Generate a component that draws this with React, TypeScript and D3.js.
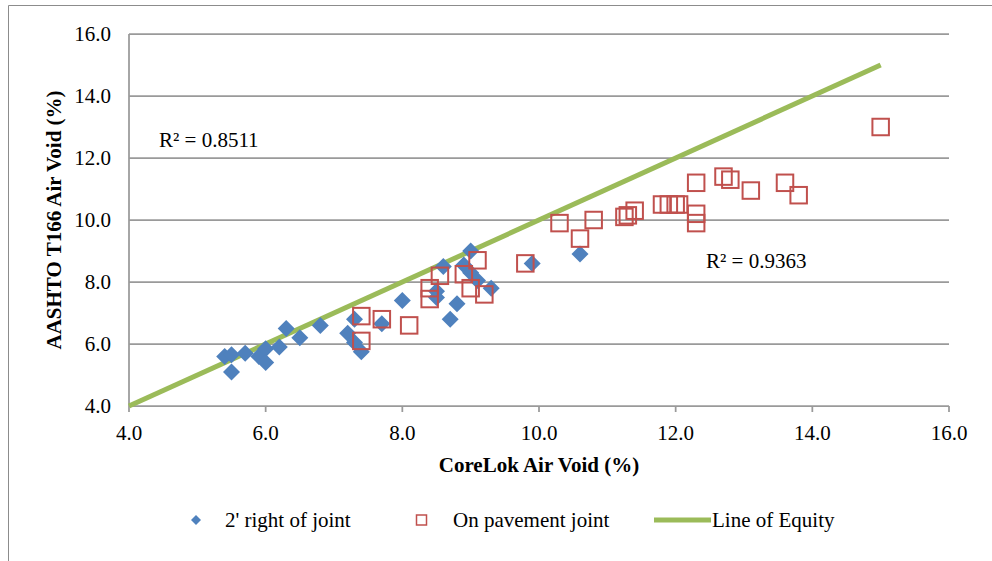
import React from "react";
import * as d3 from "d3";

const rightJointX = [5.4, 5.5, 5.5, 5.7, 5.9, 6.0, 6.0, 6.2, 6.3, 6.5, 6.8, 7.2, 7.3, 7.3, 7.4, 7.7, 8.0, 8.5, 8.5, 8.6, 8.7, 8.8, 8.9, 9.0, 9.0, 9.1, 9.3, 9.9, 10.6];
const rightJointY = [5.6, 5.65, 5.1, 5.7, 5.6, 5.85, 5.4, 5.9, 6.5, 6.2, 6.6, 6.35, 6.8, 6.05, 5.75, 6.65, 7.4, 7.7, 7.5, 8.5, 6.8, 7.3, 8.55, 9.0, 8.3, 8.05, 7.8, 8.6, 8.9];

const onJointX = [7.4, 7.4, 7.7, 8.1, 8.4, 8.4, 8.55, 8.9, 9.1, 9.0, 9.2, 9.8, 10.3, 10.6, 10.8, 11.25, 11.3, 11.4, 11.8, 11.9, 12.0, 12.05, 12.3, 12.3, 12.3, 12.7, 12.8, 13.1, 13.6, 13.8, 15.0];
const onJointY = [6.9, 6.1, 6.8, 6.6, 7.8, 7.45, 8.2, 8.25, 8.7, 7.8, 7.6, 8.6, 9.9, 9.4, 10.0, 10.1, 10.15, 10.3, 10.5, 10.5, 10.5, 10.5, 11.2, 10.2, 9.9, 11.4, 11.3, 10.95, 11.2, 10.8, 13.0];

const equityX = [4.0, 15.0];
const equityY = [4.0, 15.0];

const axisTicks = [4, 6, 8, 10, 12, 14, 16];

const seriesNames = ["2' right of joint", "On pavement joint", "Line of Equity"];
const r2Labels = ["R² = 0.8511", "R² = 0.9363"];
const xTitle = "CoreLok Air Void (%)";
const yTitle = "AASHTO T166 Air Void (%)";

const BLUE = "#4F81BD";
const RED = "#C0504D";
const GREEN = "#9BBB59";
const GRID = "#9a9a9a";
const FONT = "'Liberation Serif', 'Times New Roman', serif";

export default function App() {
  const W = 992;
  const H = 561;
  const left = 129, right = 949, top = 34, bottom = 406;
  const x = d3.scaleLinear().domain([4, 16]).range([left, right]);
  const y = d3.scaleLinear().domain([4, 16]).range([bottom, top]);

  const line = d3.line<number>().x((d) => x(equityX[d])).y((d) => y(equityY[d]));
  const diamond = (r: number) => `M0,${-r}L${r},0L0,${r}L${-r},0Z`;

  const blue = rightJointX.map((v, i) => [v, rightJointY[i]]);
  const red = onJointX.map((v, i) => [v, onJointY[i]]);
  const sq = 16.5;

  return (
    <svg width={W} height={H} style={{ position: "absolute", left: 0, top: 0, background: "#fff" }} fontFamily={FONT}>
      <rect x={0} y={0} width={W} height={H} fill="#fff" />
      {/* chart border */}
      <line x1={8.5} y1={5.5} x2={W} y2={5.5} stroke="#8c8c8c" strokeWidth={1} />
      <line x1={8.5} y1={5.5} x2={8.5} y2={H} stroke="#8c8c8c" strokeWidth={1} />

      {/* grid */}
      {axisTicks.slice(1).map((t) => (
        <line key={"g" + t} x1={left} x2={right} y1={y(t)} y2={y(t)} stroke={GRID} strokeWidth={1.75} />
      ))}
      {/* axes */}
      <line x1={left} x2={right} y1={bottom} y2={bottom} stroke={GRID} strokeWidth={1.75} />
      <line x1={left} x2={left} y1={top} y2={bottom} stroke={GRID} strokeWidth={1.75} />
      {axisTicks.map((t) => (
        <line key={"xt" + t} x1={x(t)} x2={x(t)} y1={bottom} y2={bottom + 6} stroke={GRID} strokeWidth={1.75} />
      ))}
      {axisTicks.map((t) => (
        <text key={"xl" + t} x={x(t)} y={bottom + 34} textAnchor="middle" fontSize={21} fill="#000">
          {t.toFixed(1)}
        </text>
      ))}
      {axisTicks.map((t) => (
        <text key={"yl" + t} x={left - 18} y={y(t) + 7} textAnchor="end" fontSize={21} fill="#000">
          {t.toFixed(1)}
        </text>
      ))}

      {/* line of equity */}
      <path d={line([0, 1]) || ""} stroke={GREEN} strokeWidth={5} fill="none" />

      {/* series 1 */}
      {blue.map(([a, b], i) => (
        <path key={"b" + i} d={diamond(8.5)} transform={`translate(${x(a)},${y(b)})`} fill={BLUE} />
      ))}
      {/* series 2 */}
      {red.map(([a, b], i) => (
        <rect key={"r" + i} x={x(a) - sq / 2} y={y(b) - sq / 2} width={sq} height={sq} fill="none" stroke={RED} strokeWidth={2} />
      ))}

      {/* R2 labels */}
      <text x={159} y={147} fontSize={21} fill="#000">{r2Labels[0]}</text>
      <text x={706} y={268} fontSize={21} fill="#000">{r2Labels[1]}</text>

      {/* titles */}
      <text x={539} y={472} textAnchor="middle" fontSize={21} fontWeight="bold" fill="#000">{xTitle}</text>
      <text transform={`translate(61,220) rotate(-90)`} textAnchor="middle" fontSize={21} fontWeight="bold" fill="#000">{yTitle}</text>

      {/* legend */}
      <path d={diamond(5)} transform="translate(196,520)" fill={BLUE} />
      <text x={225} y={527} fontSize={21} fill="#000">{seriesNames[0]}</text>
      <rect x={416.5} y={515} width={10} height={10} fill="none" stroke={RED} strokeWidth={1.5} />
      <text x={453} y={527} fontSize={21} fill="#000">{seriesNames[1]}</text>
      <line x1={654} x2={711} y1={520} y2={520} stroke={GREEN} strokeWidth={5} />
      <text x={712} y={527} fontSize={21} fill="#000">{seriesNames[2]}</text>
    </svg>
  );
}
